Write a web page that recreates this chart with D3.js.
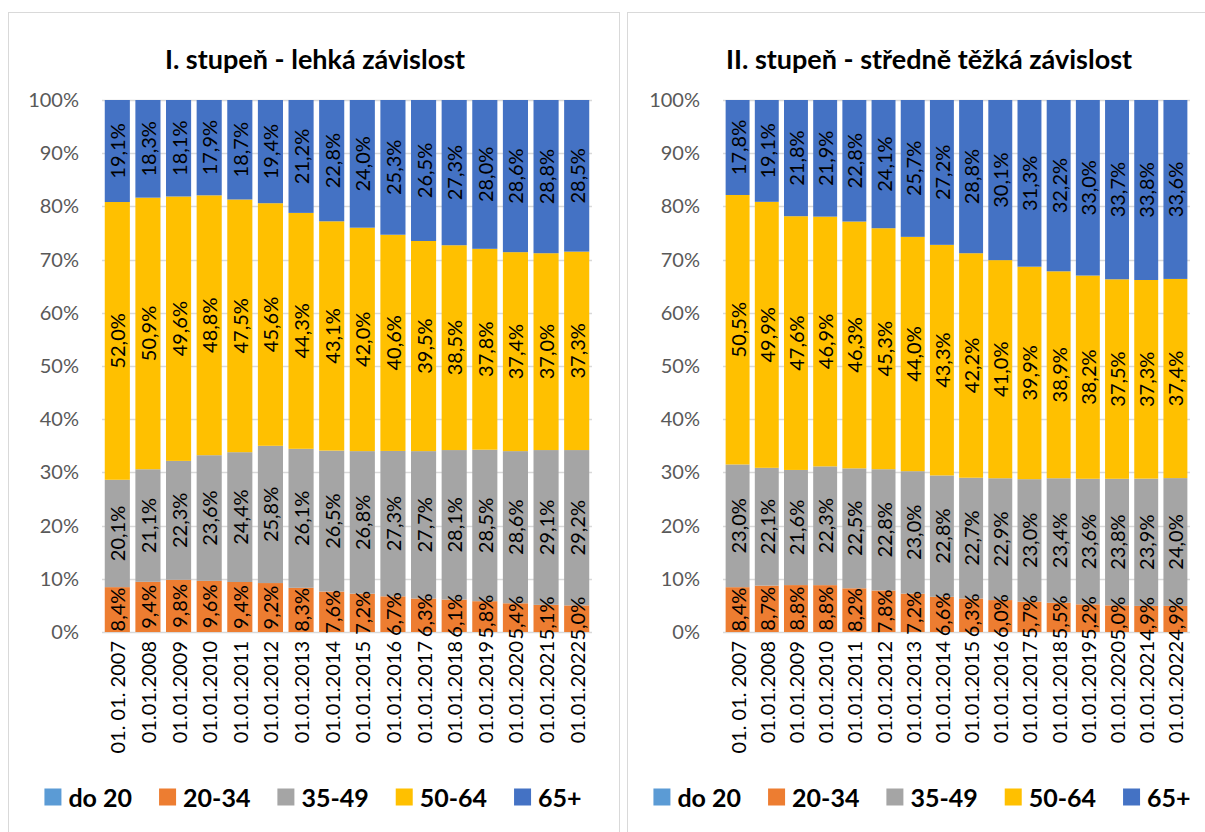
<!DOCTYPE html>
<html lang="cs">
<head>
<meta charset="UTF-8">
<title>Závislost podle věku</title>
<script src="https://d3js.org/d3.v7.min.js"></script>
<style>
  body { margin: 0; background: #fff; }
  svg text { font-family: Lato, "Open Sans", sans-serif; }
</style>
</head>
<body>
<div id="chart"></div>
<script>
const width = 1205;
const height = 832;

// categories and series
const dates = ["01. 01. 2007", "01.01.2008", "01.01.2009", "01.01.2010", "01.01.2011", "01.01.2012",
  "01.01.2013", "01.01.2014", "01.01.2015", "01.01.2016", "01.01.2017", "01.01.2018",
  "01.01.2019", "01.01.2020", "01.01.2021", "01.01.2022"];
const seriesNames = ["do 20", "20-34", "35-49", "50-64", "65+"];
const seriesColors = ["#5B9BD5", "#ED7D31", "#A5A5A5", "#FFC000", "#4472C4"];
const yTicks = [0, 10, 20, 30, 40, 50, 60, 70, 80, 90, 100];

// I. stupeň
const light_do20 = [0, 0, 0, 0, 0, 0, 0, 0, 0, 0, 0, 0, 0, 0, 0, 0];
const light_20_34 = [8.4, 9.4, 9.8, 9.6, 9.4, 9.2, 8.3, 7.6, 7.2, 6.7, 6.3, 6.1, 5.8, 5.4, 5.1, 5.0];
const light_35_49 = [20.1, 21.1, 22.3, 23.6, 24.4, 25.8, 26.1, 26.5, 26.8, 27.3, 27.7, 28.1, 28.5, 28.6, 29.1, 29.2];
const light_50_64 = [52.0, 50.9, 49.6, 48.8, 47.5, 45.6, 44.3, 43.1, 42.0, 40.6, 39.5, 38.5, 37.8, 37.4, 37.0, 37.3];
const light_65 = [19.1, 18.3, 18.1, 17.9, 18.7, 19.4, 21.2, 22.8, 24.0, 25.3, 26.5, 27.3, 28.0, 28.6, 28.8, 28.5];

// II. stupeň
const mid_do20 = [0, 0, 0, 0, 0, 0, 0, 0, 0, 0, 0, 0, 0, 0, 0, 0];
const mid_20_34 = [8.4, 8.7, 8.8, 8.8, 8.2, 7.8, 7.2, 6.6, 6.3, 6.0, 5.7, 5.5, 5.2, 5.0, 4.9, 4.9];
const mid_35_49 = [23.0, 22.1, 21.6, 22.3, 22.5, 22.8, 23.0, 22.8, 22.7, 22.9, 23.0, 23.4, 23.6, 23.8, 23.9, 24.0];
const mid_50_64 = [50.5, 49.9, 47.6, 46.9, 46.3, 45.3, 44.0, 43.3, 42.2, 41.0, 39.9, 38.9, 38.2, 37.5, 37.3, 37.4];
const mid_65 = [17.8, 19.1, 21.8, 21.9, 22.8, 24.1, 25.7, 27.2, 28.8, 30.1, 31.3, 32.2, 33.0, 33.7, 33.8, 33.6];

const svg = d3.select("#chart").append("svg")
    .attr("width", width)
    .attr("height", height);

const fmt = v => v.toFixed(1).replace(".", ",") + "%";

function drawPanel(opts) {
    const g = svg.append("g");

    // panel frame
    g.append("rect")
        .attr("x", opts.box[0] + 0.5).attr("y", opts.box[1] + 0.5)
        .attr("width", opts.box[2]).attr("height", opts.box[3])
        .attr("fill", "#fff").attr("stroke", "#D9D9D9");

    g.append("text")
        .attr("x", opts.titleX).attr("y", 58)
        .attr("text-anchor", "middle")
        .attr("dominant-baseline", "central")
        .style("font-size", "27px").style("font-weight", "bold")
        .attr("fill", "#000")
        .text(opts.title);

    const x = d3.scaleBand().domain(dates).range([opts.x0, opts.x1]).paddingInner(0.18).paddingOuter(0.09);
    const y = d3.scaleLinear().domain([0, 1]).range([632, 100]);

    // gridlines
    g.append("g").selectAll("line").data(yTicks).enter().append("line")
        .attr("x1", opts.x0).attr("x2", opts.x1)
        .attr("y1", d => Math.round(y(d / 100)) + 0.5).attr("y2", d => Math.round(y(d / 100)) + 0.5)
        .attr("stroke", "#D9D9D9").attr("stroke-width", 1.5);

    // y axis
    const yAxis = g.append("g")
        .attr("transform", `translate(${opts.x0 - 20},0)`)
        .call(d3.axisLeft(y).tickValues(yTicks.map(t => t / 100)).tickFormat(d => Math.round(d * 100) + "%").tickSize(0));
    yAxis.select(".domain").remove();
    yAxis.selectAll("text").style("font-size", "20px").attr("fill", "#595959").attr("dx", 0);

    const rows = dates.map((d, i) => {
        const r = { date: d };
        opts.series.forEach((s, k) => { r[seriesNames[k]] = s[i]; });
        return r;
    });
    // 100% stacked
    const stacked = d3.stack().keys(seriesNames).offset(d3.stackOffsetExpand)(rows);

    const layers = g.append("g").selectAll("g").data(stacked).enter().append("g")
        .attr("fill", (d, i) => seriesColors[i]);
    layers.selectAll("rect").data(d => d).enter().append("rect")
        .attr("x", d => x(d.data.date))
        .attr("width", x.bandwidth())
        .attr("y", d => y(d[1]))
        .attr("height", d => y(d[0]) - y(d[1]));

    // data labels
    const labelLayers = g.append("g").selectAll("g").data(stacked.filter(s => s.key !== "do 20")).enter().append("g");
    labelLayers.selectAll("text").data(d => d.map(v => ({ v: v, key: d.key }))).enter().append("text")
        .attr("transform", d => `translate(${x(d.v.data.date) + x.bandwidth() / 2},${(y(d.v[0]) + y(d.v[1])) / 2}) rotate(-90)`)
        .attr("text-anchor", "middle")
        .attr("dominant-baseline", "central")
        .style("font-size", "20px")
        .attr("fill", "#000")
        .text(d => fmt(d.v.data[d.key]));

    // x labels
    g.append("g").selectAll("text").data(dates).enter().append("text")
        .attr("transform", d => `translate(${x(d) + x.bandwidth() / 2},641) rotate(-90)`)
        .attr("text-anchor", "end")
        .attr("dominant-baseline", "central")
        .style("font-size", "20px")
        .attr("fill", "#000")
        .text(d => d);

    // legend
    const legend = g.append("g");
    const items = legend.selectAll("g").data(seriesNames).enter().append("g");
    items.append("rect").attr("width", 17).attr("height", 17).attr("y", -8.5)
        .attr("fill", (d, i) => seriesColors[i]);
    items.append("text").attr("x", 24).attr("dominant-baseline", "central")
        .style("font-size", "25px").style("font-weight", "bold").attr("fill", "#000")
        .text(d => d);
    const gap = 27;
    let cx = 0;
    items.each(function() {
        const w = 24 + this.querySelector("text").getComputedTextLength();
        d3.select(this).attr("transform", `translate(${cx},0)`);
        cx += w + gap;
    });
    const total = cx - gap;
    legend.attr("transform", `translate(${opts.legendX - total / 2},797)`);
}

drawPanel({
    box: [8, 12, 611, 840],
    title: "I. stupeň - lehká závislost",
    titleX: 315,
    legendX: 313,
    x0: 102, x1: 592,
    series: [light_do20, light_20_34, light_35_49, light_50_64, light_65]
});

drawPanel({
    box: [627, 12, 620, 840],
    title: "II. stupeň - středně těžká závislost",
    titleX: 929,
    legendX: 922,
    x0: 723, x1: 1190,
    series: [mid_do20, mid_20_34, mid_35_49, mid_50_64, mid_65]
});
</script>
</body>
</html>
